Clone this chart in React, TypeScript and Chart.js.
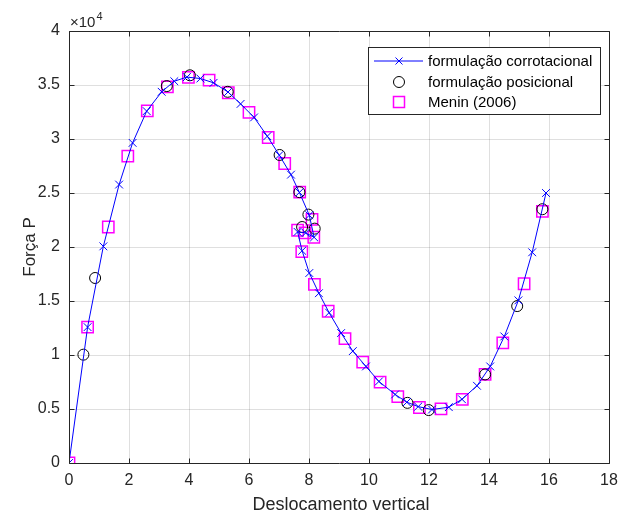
import React, { useEffect, useRef } from "react";
import { Chart, registerables } from "chart.js";
Chart.register(...registerables);

// formulação corrotacional (x: deslocamento, y: força P)
const corrX = [0, 0.62, 1.145, 1.67, 2.12, 2.59, 3.09, 3.51, 3.93, 4.38, 4.82, 5.3, 5.72, 6.17, 6.61, 7.01, 7.4, 7.68, 8.01, 8.17, 7.89, 7.62, 7.77, 8.01, 8.33, 8.67, 9.07, 9.46, 9.9, 10.33, 10.87, 11.26, 11.64, 12.1, 12.66, 13.1, 13.6, 14.04, 14.51, 14.98, 15.44, 15.9];
const corrY = [0, 12580, 20060, 25780, 29640, 32580, 34370, 35350, 35730, 35600, 35200, 34350, 33250, 32000, 30260, 28500, 26700, 25050, 22940, 20900, 21300, 21400, 19650, 17590, 15720, 13920, 12030, 10360, 8940, 7550, 6350, 5630, 5220, 4950, 5170, 5900, 7150, 8940, 11720, 15060, 19510, 25000];

// formulação posicional
const posX = [0.48, 0.87, 3.26, 4.03, 5.29, 7.02, 7.68, 7.98, 7.77, 8.19, 11.28, 11.99, 13.87, 14.94, 15.78];
const posY = [10030, 17130, 34900, 35900, 34370, 28520, 25080, 23000, 21850, 21700, 5570, 4900, 8200, 14530, 23500];

// Menin (2006)
const meninX = [0, 0.62, 1.31, 1.96, 2.61, 3.28, 3.98, 4.67, 5.31, 6.0, 6.64, 7.19, 7.69, 8.1, 7.62, 7.87, 8.16, 7.76, 8.18, 8.64, 9.2, 9.79, 10.37, 10.96, 11.68, 12.4, 13.11, 13.87, 14.46, 15.17, 15.78];
const meninY = [0, 12580, 21850, 28420, 32600, 34830, 35700, 35450, 34280, 32460, 30140, 27730, 25080, 22550, 21550, 21300, 20900, 19580, 16540, 14050, 11510, 9340, 7490, 6150, 5140, 5020, 5890, 8200, 11120, 16600, 23300];

const xTicks = [0, 2, 4, 6, 8, 10, 12, 14, 16, 18];
const yTicks = [0, 5000, 10000, 15000, 20000, 25000, 30000, 35000, 40000];

const legendLabels = ["formulação corrotacional", "formulação posicional", "Menin (2006)"];
const xTitle = "Deslocamento vertical";
const yTitle = "Força P";

const FONT = "'Liberation Sans', Arial, sans-serif";
const AXIS = "#262626";

const toPts = (xs: number[], ys: number[]) => xs.map((x, i) => ({ x, y: ys[i] }));

const framePlugin = {
  id: "frame",
  afterDraw(chart: any) {
    const { ctx, chartArea: a, scales } = chart;
    const al = (p: number) => Math.round(p - 0.5) + 0.5;
    const L = al(a.left), R = al(a.right), T = al(a.top), B = al(a.bottom);
    ctx.save();
    ctx.strokeStyle = AXIS;
    ctx.lineWidth = 1;
    ctx.beginPath();
    ctx.rect(L, T, R - L, B - T);
    ctx.stroke();
    const tl = 5;
    ctx.beginPath();
    xTicks.forEach((v) => {
      const px = al(scales.x.getPixelForValue(v));
      ctx.moveTo(px, B); ctx.lineTo(px, B - tl);
      ctx.moveTo(px, T); ctx.lineTo(px, T + tl);
    });
    yTicks.forEach((v) => {
      const py = al(scales.y.getPixelForValue(v));
      ctx.moveTo(L, py); ctx.lineTo(L + tl, py);
      ctx.moveTo(R, py); ctx.lineTo(R - tl, py);
    });
    ctx.stroke();

    // exponent label
    ctx.fillStyle = AXIS;
    ctx.textBaseline = "alphabetic";
    ctx.textAlign = "left";
    ctx.font = `15px ${FONT}`;
    ctx.fillText("×10", 70, 27);
    const w = ctx.measureText("×10").width;
    ctx.font = `11px ${FONT}`;
    ctx.fillText("4", 70 + w + 1, 20);

    // axis titles
    ctx.textAlign = "center";
    ctx.textBaseline = "middle";
    ctx.font = `18px ${FONT}`;
    ctx.fillText(xTitle, (a.left + a.right) / 2 + 2, 505);
    ctx.save();
    ctx.font = `17px ${FONT}`;
    ctx.translate(30, (a.top + a.bottom) / 2);
    ctx.rotate(-Math.PI / 2);
    ctx.fillText(yTitle, 0, 0);
    ctx.restore();

    // legend
    const bx = 368.5, by = 47.5, bw = 232, bh = 67;
    ctx.fillStyle = "#ffffff";
    ctx.fillRect(bx, by, bw, bh);
    ctx.strokeStyle = AXIS;
    ctx.strokeRect(bx, by, bw, bh);
    const rows = [61, 82, 102];
    const mx = 399;
    ctx.strokeStyle = "#0000ff";
    ctx.lineWidth = 1;
    ctx.beginPath();
    ctx.moveTo(374, rows[0]); ctx.lineTo(423, rows[0]);
    ctx.moveTo(mx - 3.5, rows[0] - 3.5); ctx.lineTo(mx + 3.5, rows[0] + 3.5);
    ctx.moveTo(mx - 3.5, rows[0] + 3.5); ctx.lineTo(mx + 3.5, rows[0] - 3.5);
    ctx.stroke();
    ctx.strokeStyle = "#000000";
    ctx.beginPath();
    ctx.arc(mx, rows[1], 5.5, 0, Math.PI * 2);
    ctx.stroke();
    ctx.strokeStyle = "#ff00ff";
    ctx.lineWidth = 1.5;
    ctx.strokeRect(mx - 5.5, rows[2] - 5.5, 11, 11);
    ctx.fillStyle = "#000000";
    ctx.font = `15px ${FONT}`;
    ctx.textAlign = "left";
    ctx.textBaseline = "middle";
    legendLabels.forEach((t, i) => ctx.fillText(t, 428, rows[i] + 1));
    ctx.restore();
  },
};

export default function App() {
  const ref = useRef<HTMLCanvasElement>(null);
  useEffect(() => {
    document.body.style.margin = "0";
    const chart = new Chart(ref.current!, {
      type: "scatter",
      data: {
        datasets: [
          {
            label: legendLabels[0],
            data: toPts(corrX, corrY),
            showLine: true,
            borderColor: "#0000ff",
            backgroundColor: "#0000ff",
            borderWidth: 1,
            pointStyle: "crossRot",
            pointRadius: 5.5,
            pointBorderWidth: 1,
            pointBorderColor: "#0000ff",
            tension: 0,
          },
          {
            label: legendLabels[1],
            data: toPts(posX, posY),
            showLine: false,
            pointStyle: "circle",
            pointRadius: 5.5,
            pointBorderWidth: 1,
            pointBorderColor: "#000000",
            pointBackgroundColor: "rgba(0,0,0,0)",
          },
          {
            label: legendLabels[2],
            data: toPts(meninX, meninY),
            showLine: false,
            pointStyle: "rect",
            pointRadius: 8,
            pointBorderWidth: 1.5,
            pointBorderColor: "#ff00ff",
            pointBackgroundColor: "rgba(0,0,0,0)",
          },
        ],
      },
      options: {
        responsive: false,
        animation: false,
        layout: { padding: { top: 31, right: 13, left: 0, bottom: 0 } },
        plugins: { legend: { display: false }, tooltip: { enabled: false } },
        scales: {
          x: {
            type: "linear",
            min: 0,
            max: 18,
            afterFit: (s: any) => { s.height = 53; s.paddingLeft = 0; s.paddingRight = 0; },
            afterBuildTicks: (s: any) => { s.ticks = xTicks.map((v) => ({ value: v })); },
            ticks: { color: AXIS, font: { family: FONT, size: 16 }, padding: 8, maxRotation: 0 },
            grid: { color: "rgba(38,38,38,0.15)", lineWidth: 1, drawTicks: false },
            border: { display: false },
          },
          y: {
            type: "linear",
            min: 0,
            max: 40000,
            afterFit: (s: any) => { s.width = 69; s.paddingTop = 0; s.paddingBottom = 0; },
            afterBuildTicks: (s: any) => { s.ticks = yTicks.map((v) => ({ value: v })); },
            ticks: {
              color: AXIS,
              font: { family: FONT, size: 16 },
              padding: 9,
              callback: (v: any) => String(Number(v) / 10000),
            },
            grid: { color: "rgba(38,38,38,0.15)", lineWidth: 1, drawTicks: false },
            border: { display: false },
          },
        },
      },
      plugins: [framePlugin],
    });
    return () => chart.destroy();
  }, []);
  return (
    <div style={{ width: 622, height: 516 }}>
      <canvas ref={ref} width={622} height={516} style={{ width: 622, height: 516, display: "block" }} />
    </div>
  );
}
